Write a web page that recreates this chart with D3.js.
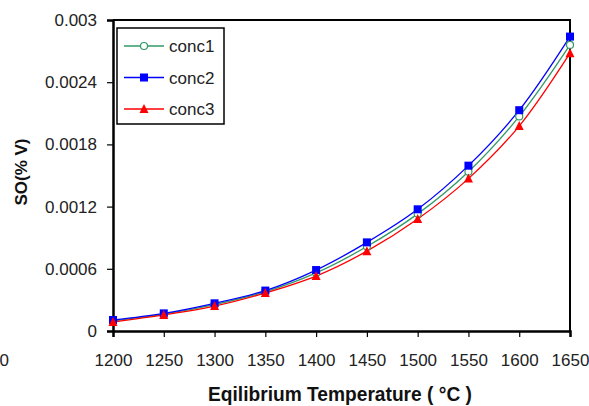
<!DOCTYPE html>
<html><head><meta charset="utf-8">
<script src="https://cdn.jsdelivr.net/npm/d3@7"></script>
<style>body{margin:0;background:#fff}svg{display:block}</style>
</head><body>
<svg id="c" width="589" height="406"></svg>
<script>
const temps = [1200,1250,1300,1350,1400,1450,1500,1550,1600,1650];
const conc1 = [0.000098,0.000162,0.000255,0.000378,0.000560,0.000815,0.001130,0.001537,0.002070,0.002760];
const conc2 = [0.000106,0.000170,0.000267,0.000390,0.000588,0.000855,0.001174,0.001595,0.002130,0.002840];
const conc3 = [0.000087,0.000155,0.000240,0.000367,0.000530,0.000770,0.001080,0.001470,0.001977,0.002680];
const seriesNames = ["conc1","conc2","conc3"];
const seriesColors = ["#339966","#0000ff","#ff0000"];
const yTicks = [0,0.0006,0.0012,0.0018,0.0024,0.003];
const yTickLabels = ["0","0.0006","0.0012","0.0018","0.0024","0.003"];
const xTicks = temps;

const svg = d3.select("#c");
const L=113,R=570,T=20,B=331;
const x = d3.scaleLinear().domain([1200,1650]).range([L,R]);
const y = d3.scaleLinear().domain([0,0.003]).range([B,T]);
const font = "Liberation Sans, Arial, sans-serif";

svg.append("path").attr("d",`M${L},${T}H${R}V${B}`).attr("fill","none").attr("stroke","#000").attr("stroke-width",2);

const ya = svg.append("g").attr("transform",`translate(${L},0)`)
  .call(d3.axisLeft(y).tickValues(yTicks).tickFormat((d,i)=>yTickLabels[i]).tickSize(6).tickPadding(10));
const xa = svg.append("g").attr("transform",`translate(0,${B})`)
  .call(d3.axisBottom(x).tickValues(xTicks).tickFormat(d3.format("d")).tickSize(6).tickPadding(17));
[ya,xa].forEach(g=>{
  g.select(".domain").attr("stroke","#000").attr("stroke-width",2.5);
  g.selectAll(".tick line").attr("stroke","#000").attr("stroke-width",1.2);
  g.selectAll("text").attr("font-family",font).attr("font-size",17).attr("fill","#222");
});

svg.append("text").attr("x",9).attr("y",366).attr("text-anchor","end")
  .attr("font-family",font).attr("font-size",17).attr("fill","#222").text("0");

const data = [conc1,conc2,conc3];
const line = d3.line().x((d,i)=>x(temps[i])).y(d=>y(d)).curve(d3.curveCatmullRom);
data.forEach((vals,k)=>{
  svg.append("path").datum(vals).attr("d",line).attr("fill","none")
    .attr("stroke",seriesColors[k]).attr("stroke-width",1.3);
});
function marker(g,k,cx,cy){
  if(k===0) g.append("circle").attr("cx",cx).attr("cy",cy).attr("r",3.5).attr("fill","#fff").attr("stroke",seriesColors[0]).attr("stroke-width",1.2);
  else if(k===1) g.append("rect").attr("x",cx-4).attr("y",cy-4).attr("width",8).attr("height",8).attr("fill",seriesColors[1]);
  else g.append("path").attr("d",`M${cx},${cy-5}L${cx+4.5},${cy+4}L${cx-4.5},${cy+4}Z`).attr("fill",seriesColors[2]);
}
data.forEach((vals,k)=>{
  const g = svg.append("g");
  vals.forEach((v,i)=>marker(g,k,x(temps[i]),y(v)));
});

const lg = svg.append("g");
lg.append("rect").attr("x",117).attr("y",28).attr("width",107).attr("height",96)
  .attr("fill","#fff").attr("stroke","#000").attr("stroke-width",1.5);
seriesNames.forEach((n,k)=>{
  const ly = 46 + k*31.5;
  lg.append("line").attr("x1",124).attr("x2",164).attr("y1",ly).attr("y2",ly).attr("stroke",seriesColors[k]).attr("stroke-width",1.3);
  marker(lg,k,144,ly);
  lg.append("text").attr("x",169).attr("y",ly+6).attr("font-family",font).attr("font-size",17).attr("fill","#222").text(n);
});

svg.append("text").attr("x",208).attr("y",401)
  .attr("font-family",font).attr("font-size",20).attr("font-weight","bold").attr("fill","#111")
  .attr("textLength",264).attr("lengthAdjust","spacingAndGlyphs")
  .text("Eqilibrium Temperature ( °C )");
svg.append("text").attr("transform","translate(27,172) rotate(-90)").attr("text-anchor","middle")
  .attr("font-family",font).attr("font-size",17).attr("font-weight","bold").attr("fill","#111")
  .text("SO(% V)");
</script>
</body></html>
